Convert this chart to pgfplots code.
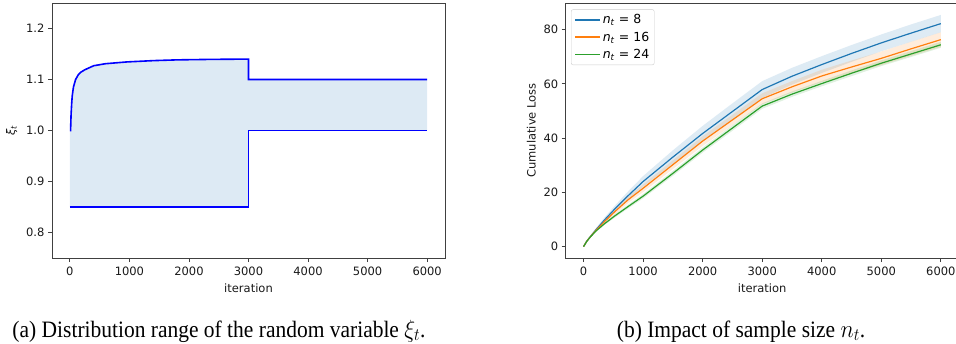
\documentclass[border=0pt]{standalone}
\usepackage{pgfplots}
\pgfplotsset{compat=1.18}
\usepackage{pgfplotstable}
\usepgfplotslibrary{fillbetween}
\usepackage{fontspec}
\setmainfont{DejaVu Sans}
\newfontfamily\capfont{Liberation Serif}
\definecolor{mplblue}{HTML}{1F77B4}
\definecolor{mplorange}{HTML}{FF7F0E}
\definecolor{mplgreen}{HTML}{2CA02C}
\definecolor{fillblue}{HTML}{DDEAF4}
\definecolor{spine}{HTML}{404040}

\pgfplotstableread{
x m lo hi
0 0 0 0
50 1.9 1.7 2.1
100 3.3 3.0 3.6
200 6.0 5.4 6.6
350 9.8 8.9 10.7
530 14.0 12.8 15.2
750 18.8 17.2 20.4
1000 24.0 22.0 26.0
1500 33.0 30.5 35.5
2000 41.7 38.9 44.5
2500 49.8 46.8 52.8
3000 57.9 54.8 61.0
3500 62.8 59.7 65.9
4000 67.1 64.0 70.2
4500 71.2 68.1 74.3
5000 75.1 72.0 78.2
5500 78.7 75.5 81.9
6000 82.2 79.0 85.4
}\tblA
\pgfplotstableread{
x m lo hi
0 0 0 0
50 1.85 1.7 2.0
100 3.25 3.0 3.5
200 5.8 5.3 6.3
350 9.2 8.45 9.95
530 13.0 12.0 14.0
750 17.3 16.1 18.5
1000 21.5 20.1 22.9
1500 30.2 28.6 31.8
2000 38.9 37.1 40.7
2500 46.7 44.8 48.6
3000 54.5 52.5 56.5
3500 58.9 56.8 61.0
4000 62.9 60.6 65.2
4500 66.2 63.8 68.6
5000 69.4 66.9 71.9
5500 72.9 70.3 75.5
6000 76.3 73.6 79.0
}\tblB
\pgfplotstableread{
x m lo hi
0 0 0 0
50 1.8 1.7 1.9
100 3.2 3.0 3.4
200 5.6 5.3 5.9
350 8.4 7.95 8.85
530 11.4 10.8 12.0
750 14.8 14.1 15.5
1000 18.6 17.8 19.4
1500 27.0 26.1 27.9
2000 35.6 34.65 36.55
2500 43.7 42.7 44.7
3000 51.8 50.8 52.8
3500 56.2 55.2 57.2
4000 60.1 59.1 61.1
4500 63.9 62.85 64.95
5000 67.6 66.55 68.65
5500 71.0 69.9 72.1
6000 74.4 73.3 75.5
}\tblC

\pgfplotsset{
  myaxis/.style={
    scale only axis,
    width=393pt, height=255pt,
    xmin=-300, xmax=6300,
    xtick={0,1000,...,6000},
    axis line style={spine, line width=0.9pt},
    tick style={spine, line width=0.9pt},
    major tick length=4pt,
    tick align=outside,
    xtick pos=bottom, ytick pos=left,
    /pgf/number format/assume math mode=true,
    /pgf/number format/1000 sep={},
    tick label style={font=\fontsize{11.5}{13}\selectfont, text=black!90},
    xticklabel style={yshift=-1.5pt},
    label style={font=\fontsize{11.5}{13}\selectfont, text=black!90},
    xlabel={iteration},
    xlabel style={yshift=-1pt},
  }
}

\begin{document}
\begin{tikzpicture}[x=1pt,y=1pt]
\begin{axis}[myaxis,
  at={(52pt,85pt)}, anchor=south west,
  ymin=0.75, ymax=1.25,
  ytick={0.8,0.9,1.0,1.1,1.2},
  yticklabel style={/pgf/number format/.cd, fixed, fixed zerofill, precision=1},
  ylabel={\textit{ξ}\textsubscript{\textit{t}}},
  ylabel style={yshift=2pt},
]
\addplot[name path=up, draw=none] coordinates {
(0,1.0) (12,1.0) (20,1.03) (30,1.052) (40,1.068) (60,1.085) (96,1.1) (140,1.109) (180,1.114) (250,1.119) (400,1.127) (600,1.131) (963,1.1345) (1400,1.137) (1800,1.1385) (2400,1.1395) (3000,1.140) (3000,1.100) (6000,1.100)
};
\addplot[name path=lowb, draw=none] coordinates {
(0,0.85) (3000,0.85) (3000,1.0) (6000,1.0)
};
\addplot[fillblue, draw=none] fill between[of=up and lowb];
\addplot[blue, line width=1.6pt] coordinates {
(0,1.0) (12,1.0) (20,1.03) (30,1.052) (40,1.068) (60,1.085) (96,1.1) (140,1.109) (180,1.114) (250,1.119) (400,1.127) (600,1.131) (963,1.1345) (1400,1.137) (1800,1.1385) (2400,1.1395) (3000,1.140) (3000,1.100) (6000,1.100)
};
\addplot[blue, line width=1.6pt] coordinates {
(0,0.85) (3000,0.85) (3000,1.0) (6000,1.0)
};
\end{axis}

\begin{axis}[myaxis,
  at={(565.7pt,85pt)}, anchor=south west,
  ymin=-4.2, ymax=89.8,
  ytick={0,20,...,80},
  ylabel={Cumulative Loss},
  ylabel style={yshift=1pt},
  legend cell align=left,
  legend style={at={(0.0135,0.975)}, anchor=north west,
    draw=black!20, rounded corners=2pt, fill=white,
    font=\fontsize{12.5}{14}\selectfont, row sep=2.5pt, inner sep=3pt},
  legend image code/.code={\draw[#1] (0pt,0pt) -- (25pt,0pt);},
]
\addlegendimage{mplblue, line width=1.6pt}
\addlegendentry{\textit{n}\textsubscript{\textit{t}} = 8}
\addlegendimage{mplorange, line width=1.6pt}
\addlegendentry{\textit{n}\textsubscript{\textit{t}} = 16}
\addlegendimage{mplgreen, line width=1.6pt}
\addlegendentry{\textit{n}\textsubscript{\textit{t}} = 24}
\addplot[name path=ah, draw=none, forget plot] table[x=x,y=hi]{\tblA};
\addplot[name path=al, draw=none, forget plot] table[x=x,y=lo]{\tblA};
\addplot[mplblue, fill opacity=0.15, forget plot] fill between[of=ah and al];
\addplot[name path=bh, draw=none, forget plot] table[x=x,y=hi]{\tblB};
\addplot[name path=bl, draw=none, forget plot] table[x=x,y=lo]{\tblB};
\addplot[mplorange, fill opacity=0.15, forget plot] fill between[of=bh and bl];
\addplot[name path=ch, draw=none, forget plot] table[x=x,y=hi]{\tblC};
\addplot[name path=cl, draw=none, forget plot] table[x=x,y=lo]{\tblC};
\addplot[mplgreen, fill opacity=0.15, forget plot] fill between[of=ch and cl];
\addplot[mplblue, line width=1.2pt, forget plot] table[x=x,y=m]{\tblA};
\addplot[mplorange, line width=1.2pt, forget plot] table[x=x,y=m]{\tblB};
\addplot[mplgreen, line width=1.2pt, forget plot] table[x=x,y=m]{\tblC};
\end{axis}

\node[anchor=base west, inner sep=0pt] at (12.3pt,6pt) {\scalebox{0.914}[1]{\capfont\fontsize{23.5}{28}\selectfont (a) Distribution range of the random variable $\xi_t$.}};
\node[anchor=base west, inner sep=0pt] at (616.7pt,6pt) {\scalebox{0.914}[1]{\capfont\fontsize{23.5}{28}\selectfont (b) Impact of sample size $n_t$.}};

\pgfresetboundingbox
\path[use as bounding box] (0,0) rectangle (956pt,343pt);
\end{tikzpicture}
\end{document}
